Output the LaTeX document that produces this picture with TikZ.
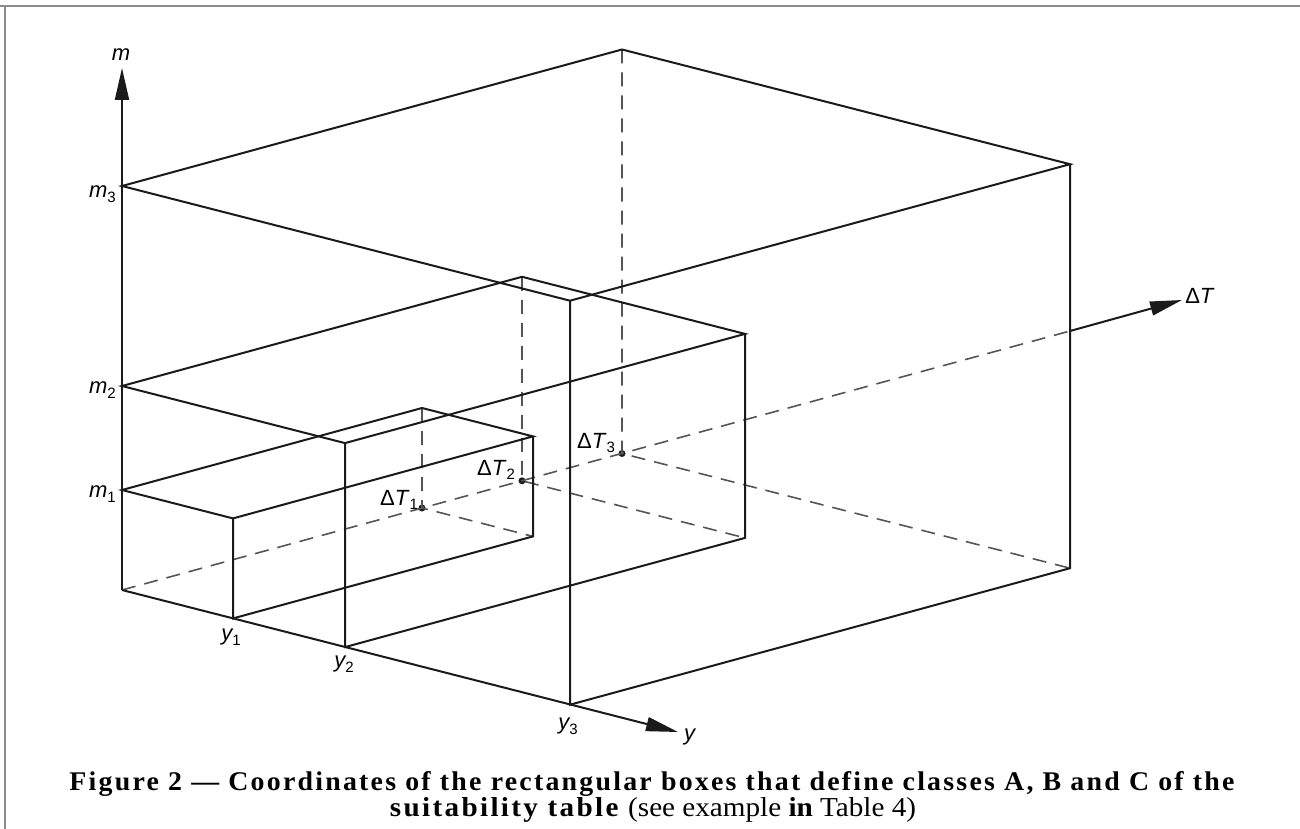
\documentclass[tikz,border=0pt]{standalone}
\usepackage{fontspec}
\setmainfont{Liberation Serif}
\newfontfamily\rotfont{Liberation Sans}
\usepackage{graphicx}
\usetikzlibrary{arrows.meta}
\definecolor{traco}{HTML}{1A1A1A}
\definecolor{oculto}{HTML}{555555}
\definecolor{moldura}{HTML}{8C8C8C}
\newcommand{\rotsub}[2]{#1\raisebox{-0.4ex}{\fontsize{15}{15}\selectfont\upshape #2}}

\begin{document}
\begin{tikzpicture}[x=1pt,y=-1pt,
  linha/.style={traco,line width=2pt},
  oculta/.style={oculto,line width=1.6pt,dash pattern=on 14pt off 9pt},
  eixo/.style={traco,line width=2pt,-{Triangle[length=32pt,width=14pt]}},
  rotulo/.style={font=\rotfont\fontsize{22}{22}\selectfont,inner sep=1pt},
  ponto/.style={circle,fill=traco,inner sep=0pt,minimum size=7pt}
]
  \useasboundingbox (0,0) rectangle (1300,829);
  \draw[moldura,line width=1.5pt] (0,6) -- (1300,6) (5,6) -- (5,829);

  % eixos
  \coordinate (O) at (122,590);
  \coordinate (mtopo) at (122,68);
  \coordinate (ytopo) at (678,732);
  \coordinate (Tsai) at (1070,331);
  \coordinate (Ttopo) at (1182,300);

  % caixa 1
  \coordinate (m1) at (122,490);
  \coordinate (F1) at (233,518.4);
  \coordinate (B1) at (422,408);
  \coordinate (R1) at (533,436.4);
  \coordinate (y1) at (233,618.4);
  \coordinate (Rb1) at (533,536.4);
  % caixa 2
  \coordinate (m2) at (122,386);
  \coordinate (F2) at (345,443.1);
  \coordinate (B2) at (522,276.8);
  \coordinate (R2) at (745,333.9);
  \coordinate (y2) at (345,647.1);
  \coordinate (Rb2) at (745,537.9);
  % caixa 3
  \coordinate (m3) at (122,186);
  \coordinate (F3) at (570,300.7);
  \coordinate (B3) at (622,49.5);
  \coordinate (R3) at (1070,164.2);
  \coordinate (y3) at (570,704.7);
  \coordinate (Rb3) at (1070,568.2);

  \node[ponto] (T1) at (422,508) {};
  \node[ponto] (T2) at (522,480.8) {};
  \node[ponto] (T3) at (622,453.5) {};

  % arestas ocultas
  \draw[oculta] (O) -- (Tsai);
  \draw[oculta] (B1) -- (T1.center) -- (Rb1);
  \draw[oculta] (B2) -- (T2.center) -- (Rb2);
  \draw[oculta] (B3) -- (T3.center) -- (Rb3);

  % arestas visiveis
  \draw[linha] (m3) -- (B3) -- (R3) -- (F3) -- cycle;
  \draw[linha] (F3) -- (y3) -- (Rb3) -- (R3);
  \draw[linha] (m2) -- (B2) -- (R2) -- (F2) -- cycle;
  \draw[linha] (F2) -- (y2) -- (Rb2) -- (R2);
  \draw[linha] (m1) -- (B1) -- (R1) -- (F1) -- cycle;
  \draw[linha] (F1) -- (y1) -- (Rb1) -- (R1);

  \draw[eixo] (O) -- (mtopo);
  \draw[eixo] (O) -- (ytopo);
  \draw[eixo] (Tsai) -- (Ttopo);

  % rotulos
  \node[rotulo] (lm) at (121,55) {\itshape m};
  \node[rotulo,anchor=east] (lm3) at (117,194) {\rotsub{\itshape m}{3}};
  \node[rotulo,anchor=east] (lm2) at (117,390) {\rotsub{\itshape m}{2}};
  \node[rotulo,anchor=east] (lm1) at (117,494) {\rotsub{\itshape m}{1}};
  \node[rotulo] (ly1) at (231,637) {\rotsub{\itshape y}{1}};
  \node[rotulo] (ly2) at (344,664) {\rotsub{\itshape y}{2}};
  \node[rotulo] (ly3) at (568,726) {\rotsub{\itshape y}{3}};
  \node[rotulo,anchor=west] (ly) at (683,737) {\itshape y};
  \node[rotulo] (lT) at (1200,296) {Δ\textit{T}};
  \node[rotulo] (lT1) at (399,500) {\rotsub{Δ\textit{T}}{1}};
  \node[rotulo] (lT2) at (496,470) {\rotsub{Δ\textit{T}}{2}};
  \node[rotulo] (lT3) at (596,443) {\rotsub{Δ\textit{T}}{3}};

  % legenda
  \node[anchor=base,inner sep=0pt] (leg1) at (652,790)
    {\resizebox{1165pt}{19pt}{\bfseries\addfontfeature{LetterSpace=8}Figure 2 — Coordinates of the rectangular boxes that define classes A, B and C of the}};
  \node[anchor=base,inner sep=0pt] (leg2) at (653,816)
    {\resizebox{526pt}{19pt}{\textbf{\addfontfeature{LetterSpace=8}suitability table} (see example \textbf{in} Table 4)}};
\end{tikzpicture}
\end{document}
